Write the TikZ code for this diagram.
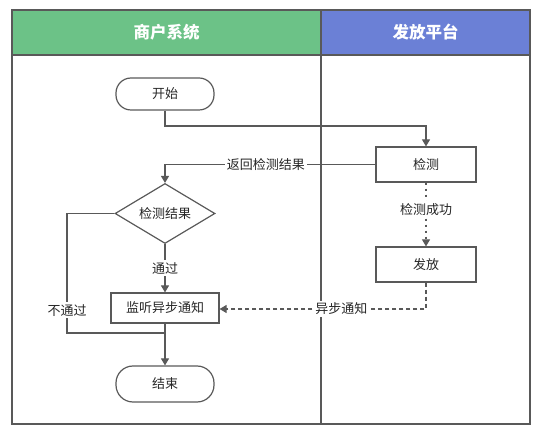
\documentclass[tikz,border=0pt]{standalone}
\usepackage{fontspec}
\setmainfont{Noto Sans CJK SC}
\usetikzlibrary{arrows.meta,shapes.geometric}
\definecolor{lanegreen}{HTML}{6CC287}
\definecolor{laneblue}{HTML}{6B80D6}
\definecolor{ln}{HTML}{595959}
\tikzset{
  lane/.style={draw=ln,line width=1.6pt},
  hdr/.style={font=\bfseries\fontsize{16.5}{18}\selectfont,text=white},
  txt/.style={font=\fontsize{13}{15}\selectfont,text=black!85},
  proc/.style={txt,draw=ln,line width=1.2pt,minimum width=100pt,minimum height=35pt,inner sep=0pt},
  term/.style={txt,draw=ln,line width=1.2pt,rounded corners=15pt,minimum width=98pt,minimum height=32pt,inner sep=0pt},
  deci/.style={txt,draw=ln,line width=1.2pt,diamond,aspect=1.67,minimum width=100pt,minimum height=60pt,inner sep=0pt},
  conn/.style={draw=ln,line width=1.2pt},
  arr/.style={conn,-{Triangle[length=7pt,width=8pt]}},
  lbl/.style={txt,fill=white,inner sep=2pt},
}
\begin{document}
\begin{tikzpicture}[x=1pt,y=-1pt]
\useasboundingbox (0,0) rectangle (541,435);
% lanes
\fill[lanegreen] (12,10) rectangle (321,55);
\fill[laneblue] (321,10) rectangle (530,55);
\draw[lane] (12,10) rectangle (321,424);
\draw[lane] (321,10) rectangle (530,424);
\draw[lane] (12,55) -- (530,55);
\node[hdr] (h1) at (166.5,32.5) {商户系统};
\node[hdr] (h2) at (425.5,32.5) {发放平台};
% nodes
\node[term] (start) at (165,94) {开始};
\node[proc] (jc) at (426,164.5) {检测};
\node[deci] (dia) at (165,213.5) {检测结果};
\node[proc,minimum width=108pt,minimum height=30pt] (jt) at (165,308) {监听异步通知};
\node[proc] (ff) at (426,264.5) {发放};
\node[term,minimum height=36pt,rounded corners=17pt] (end) at (165,384) {结束};
\coordinate (c1) at (165,126);
\coordinate (c2) at (426,126);
\coordinate (c3) at (165,164.5);
\coordinate (c4) at (67,213.5);
\coordinate (join) at (165,333);
\coordinate (c5) at (426,309);
% connectors
\draw[arr] (start.south) -- (c1) -- (c2) -- (jc.north);
\draw[arr] (jc.west) -- node[lbl,pos=0.52] {返回检测结果} (c3) -- (dia.north);
\draw[arr] (dia.south) -- node[lbl] {通过} (jt.north);
\draw[conn] (dia.west) -- (c4) -- node[lbl,pos=0.81] {不通过} (c4 |- join) -- (join);
\draw[arr] (jt.south) -- (end.north);
\draw[arr,dash pattern=on 2pt off 4pt] (jc.south) -- node[lbl,pos=0.42] {检测成功} (ff.north);
\draw[arr,dash pattern=on 4pt off 3pt] (ff.south) -- (c5) -- node[lbl,pos=0.41] {异步通知} (c5 -| jt.east);
\end{tikzpicture}
\end{document}
